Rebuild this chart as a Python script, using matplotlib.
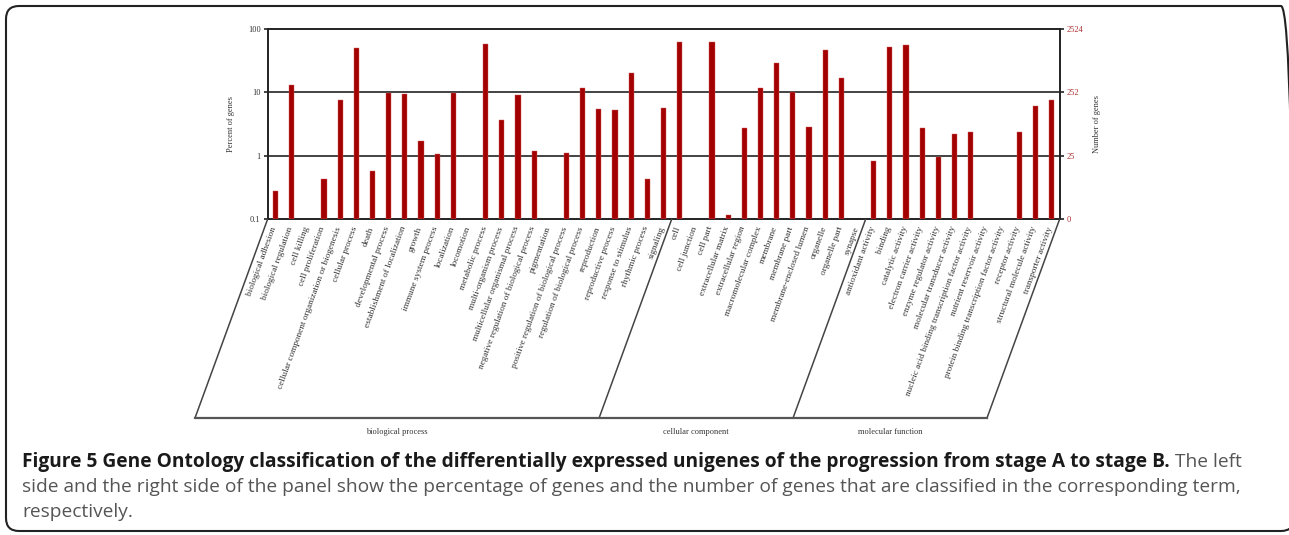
import matplotlib
matplotlib.use("Agg")
import matplotlib.pyplot as plt
from matplotlib.lines import Line2D
from matplotlib.patches import FancyBboxPatch
from matplotlib.transforms import IdentityTransform
import numpy as np

# ---------------- data ----------------
bp_terms = ["biological adhesion", "biological regulation", "cell killing", "cell proliferation",
            "cellular component organization or biogenesis", "cellular process", "death",
            "developmental process", "establishment of localization", "growth",
            "immune system process", "localization", "locomotion", "metabolic process",
            "multi-organism process", "multicellular organismal process",
            "negative regulation of biological process", "pigmentation",
            "positive regulation of biological process", "regulation of biological process",
            "reproduction", "reproductive process", "response to stimulus", "rhythmic process",
            "signaling"]
cc_terms = ["cell", "cell junction", "cell part", "extracellular matrix", "extracellular region",
            "macromolecular complex", "membrane", "membrane part", "membrane-enclosed lumen",
            "organelle", "organelle part", "synapse"]
mf_terms = ["antioxidant activity", "binding", "catalytic activity", "electron carrier activity",
            "enzyme regulator activity", "molecular transducer activity",
            "nucleic acid binding transcription factor activity", "nutrient reservoir activity",
            "protein binding transcription factor activity", "receptor activity",
            "structural molecule activity", "transporter activity"]

bp_percent = [0.27, 12.9, 0, 0.42, 7.6, 50.6, 0.58, 9.9, 9.4, 1.70, 1.05, 9.9, 0, 57.8,
              3.65, 9.0, 1.16, 0, 1.08, 11.6, 5.45, 5.3, 20.5, 0.42, 5.6]
cc_percent = [62.2, 0, 62.2, 0.114, 2.73, 11.7, 28.9, 10.3, 2.86, 47.5, 16.7, 0]
mf_percent = [0.81, 52.4, 56.4, 2.73, 0.95, 2.17, 2.33, 0, 0, 2.35, 6.1, 7.5]

group_names = ["biological process", "cellular component", "molecular function"]
left_ticks = [0.1, 1, 10, 100]
left_ticklabels = ["0.1", "1", "10", "100"]
right_ticklabels = ["0", "25", "252", "2524"]

caption_bold = ("Figure 5 Gene Ontology classification of the differentially expressed "
                "unigenes of the progression from stage A to stage B.")
caption_rest1 = " The left"
caption_line2 = ("side and the right side of the panel show the percentage of genes and the "
                 "number of genes that are classified in the corresponding term,")
caption_line3 = "respectively."

# ---------------- figure ----------------
W, H = 1289, 535
fig = plt.figure(figsize=(W / 100, H / 100), dpi=100)

def fx(x):
    return x / W

def fy(y):
    return 1 - y / H

serif = "Liberation Serif"
bar_color = "#a30000"
red_text = "#b03030"

ax_l, ax_r, ax_t, ax_b = 267.5, 1059.5, 29.3, 218.7
ax = fig.add_axes([fx(ax_l), fy(ax_b), fx(ax_r) - fx(ax_l), fy(ax_t) - fy(ax_b)])

terms = bp_terms + cc_terms + mf_terms
values = bp_percent + cc_percent + mf_percent
xs = np.arange(len(terms))
vals = np.array(values, dtype=float)
mask = vals > 0
ax.bar(xs[mask], vals[mask] - 0.1, bottom=0.1, width=0.32, color=bar_color,
       edgecolor="#d06060", linewidth=0.3, zorder=3)
ax.set_yscale("log")
ax.set_ylim(0.1, 100)
ax.set_xlim(-0.5, len(terms) - 0.5)
ax.set_xticks([])
ax.yaxis.set_minor_locator(matplotlib.ticker.NullLocator())
ax.set_yticks(left_ticks)
ax.set_yticklabels(left_ticklabels, fontfamily=serif, fontsize=6, color="#333333")
ax.tick_params(axis="y", length=3, width=1.2, pad=2, color="#222222")
for v in [1, 10]:
    ax.axhline(v, color="#222222", lw=1.2, zorder=2)
for s in ax.spines.values():
    s.set_color("#222222")
    s.set_linewidth(1.4)
ax.set_ylabel("Percent of genes", fontfamily=serif, fontsize=6, color="#333333", labelpad=9)

ax2 = ax.twinx()
ax2.set_yscale("log")
ax2.set_ylim(0.1, 100)
ax2.yaxis.set_minor_locator(matplotlib.ticker.NullLocator())
ax2.set_yticks(left_ticks)
ax2.set_yticklabels(right_ticklabels, fontfamily=serif, fontsize=6, color=red_text)
ax2.tick_params(axis="y", length=3, width=1.2, pad=2, color="#222222")
for s in ax2.spines.values():
    s.set_visible(False)
ax2.set_ylabel("Number of genes", fontfamily=serif, fontsize=6, color="#333333", labelpad=7)

# term labels
for i, t in enumerate(terms):
    ax.annotate(t, xy=(i, 0), xycoords=("data", "axes fraction"),
                xytext=(-1, -8), textcoords="offset pixels",
                rotation=70, rotation_mode="anchor", ha="right", va="center",
                fontfamily=serif, fontsize=6.7, color="#333333", annotation_clip=False)

# group brackets
slot = (ax_r - ax_l) / len(terms)
top_y, bot_y = 219.5, 418
dx = 72.5
n1, n2 = len(bp_terms), len(bp_terms) + len(cc_terms)
b0 = ax_l
b1 = ax_l + slot * n1
b2 = ax_l + slot * n2
b3 = ax_r
line_kw = dict(color="#444444", lw=1.1, transform=fig.transFigure)
for bx in [b0, b1, b2, b3]:
    fig.add_artist(Line2D([fx(bx), fx(bx - dx)], [fy(top_y), fy(bot_y)], **line_kw))
fig.add_artist(Line2D([fx(b0 - dx), fx(b3 - dx)], [fy(bot_y), fy(bot_y)],
                      color="#555555", lw=1.6, transform=fig.transFigure))
for name, (a, b) in zip(group_names, [(b0, b1), (b1, b2), (b2, b3)]):
    cx = (a + b) / 2 - dx
    fig.text(fx(cx), fy(431.5), name, ha="center", va="center",
             fontfamily=serif, fontsize=6, color="#333333")

# border (in pixel coordinates)
border = FancyBboxPatch((6, H - 531), 1294 - 6, 531 - 6,
                        boxstyle="round,pad=0,rounding_size=13",
                        transform=IdentityTransform(), fill=False, ec="#222222", lw=1.5)
fig.add_artist(border)

# caption
cap_font = "Open Sans"
cap_size = 13.75
x0 = 22
t1 = fig.text(fx(x0), fy(467), caption_bold, fontfamily=cap_font, fontweight="bold",
              fontsize=cap_size, color="#1a1a1a", va="baseline", ha="left")
fig.canvas.draw()
bb = t1.get_window_extent()
fig.text(bb.x1 / W, fy(467), caption_rest1, fontfamily=cap_font, fontsize=cap_size,
         color="#555555", va="baseline", ha="left")
fig.text(fx(x0), fy(492), caption_line2, fontfamily=cap_font, fontsize=cap_size,
         color="#555555", va="baseline", ha="left")
fig.text(fx(x0), fy(517), caption_line3, fontfamily=cap_font, fontsize=cap_size,
         color="#555555", va="baseline", ha="left")

fig.savefig("out.png", dpi=100)
